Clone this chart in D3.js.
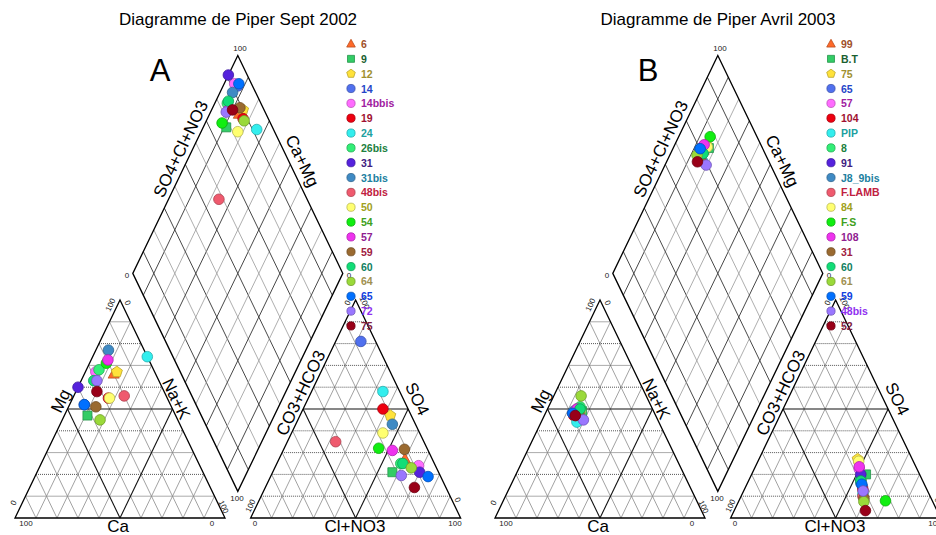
<!DOCTYPE html>
<html><head><meta charset="utf-8">
<script src="https://cdn.jsdelivr.net/npm/d3@7"></script>
<style>body{margin:0;background:#fff}svg{display:block}</style>
</head><body>
<script>
// ---------------- DATA ----------------
const titles = ["Diagramme de Piper Sept 2002", "Diagramme de Piper Avril 2003"];
const panelLetters = ["A", "B"];

// Panel A (Sept 2002) — percentages (meq)
const samplesA = ["6","9","12","14","14bbis","19","24","26bis","31","31bis","48bis","50","54","57","59","60","64","65","72","75"];
const mgA  = [66, 47, 67, 52, 67, 55, 74, 68, 60, 77, 56, 55, 71, 72.5, 51, 63, 45, 52, 63, 58];
const nakA = [14, 11, 15, 7, 5, 17, 26, 6, 0, 6, 24, 17.5, 8, 8, 13, 6, 18, 7, 7.5, 10];
const so4A = [27, 21, 47, 81, 24, 50, 58, 25, 21, 43, 35, 39, 32, 31, 31.5, 25, 23, 19, 19.5, 14];
const clA  = [60, 57, 43, 12, 68, 38, 34, 59, 70, 46, 23, 43.5, 45, 52, 57.5, 60, 65, 75, 62, 71];

// Panel B (Avril 2003)
const samplesB = ["99","B.T","75","65","57","104","PIP","8","91","J8_9bis","F.LAMB","84","F.S","108","31","60","61","59","48bis","52"];
const mgB  = [49, 49, 49, 48, 50, 47, 44, 51, 48, 49, 47, 49, 48, 50, 48, 50, 56, 48, 45, 47];
const nakB = [15, 17, 15, 13, 14, 14, 17, 15, 14, 13, 15, 16, 15, 14, 16, 15.5, 13, 13, 19.6, 14.7];
const so4B = [19, 20, 27, 14.5, 22.5, 13, 11, 18, 20, 16, 10, 26, 7.9, 23.5, 9, 17, 7.5, 15.5, 12.4, 3.4];
const clB  = [52.5, 54.5, 47, 55.5, 50, 56.5, 57.5, 53, 52, 54, 58, 48, 69.8, 49.5, 59, 53.5, 59.7, 54.7, 56.9, 62.5];

// Per legend position styling (same for both panels)
const fillColors = ["#ff6a2a","#33cc66","#ffe23a","#5070ee","#ff6cff","#ee0010","#33eeee","#33ee77","#5522dd","#3f8ac4",
                    "#ef5a6e","#ffff70","#11ee11","#ee33ee","#9a6a30","#11dd77","#9ad93a","#0070ff","#9a77ff","#990018"];
const textColors = ["#a0502a","#1a6030","#a09030","#2545c8","#a020a0","#a01030","#20a0a0","#208040","#402080","#2080a0",
                    "#c02040","#a0a020","#40a020","#902090","#a02040","#108060","#a09050","#1040e0","#9030f0","#802040"];
const shapes = ["triangle","square","pentagon","circle","circle","circle","circle","circle","circle","circle",
                "circle","circle","circle","circle","circle","circle","circle","circle","circle","circle"];

const gridTicks = [10,20,30,40,50,60,70,80,90];

// ---------------- SETUP ----------------
const W = 936, H = 535;
const svg = d3.select("body").append("svg").attr("width", W).attr("height", H)
  .style("font-family", "'Liberation Sans', Arial, sans-serif");

const hh = Math.sqrt(3) / 2;
const gap = 0.122;
const x = d3.scaleLinear().domain([0, 1]).range([15, 225]);
const y = d3.scaleLinear().domain([0, hh]).range([518, 300]);

const catPt = (mg, na) => [na / 100 + mg / 200, hh * mg / 100];
const anPt  = (so4, cl) => [1 + gap + cl / 100 + so4 / 200, hh * so4 / 100];
const diaPt = (na, a) => { const t = 1 + gap + a / 100 - na / 100; return [na / 100 + t / 2, hh * t]; };

const line = d3.line().x(d => x(d[0])).y(d => y(d[1]));
const rotAng = Math.atan2(y(hh) - y(0), x(0.5) - x(0)) * 180 / Math.PI;

function shapePath(kind, r) {
  if (kind === "circle") return d3.symbol(d3.symbolCircle, Math.PI * r * r)();
  if (kind === "square") return d3.symbol(d3.symbolSquare, (1.7 * r) * (1.7 * r))();
  if (kind === "triangle") return `M0,${-r * 1.15}L${r * 1.05},${r * 0.75}L${-r * 1.05},${r * 0.75}Z`;
  if (kind === "pentagon") {
    const pts = d3.range(5).map(k => { const a = (-90 + 72 * k) * Math.PI / 180; return [r * 1.1 * Math.cos(a), r * 1.1 * Math.sin(a)]; });
    return "M" + pts.map(p => p.join(",")).join("L") + "Z";
  }
}

function drawPanel(p, names, mg, nak, so4, cl) {
  const g = svg.append("g").attr("transform", `translate(${480 * p},0)`);
  const gridG = g.append("g");

  const seg = (a, b, cls) => {
    const el = gridG.append("path").attr("d", line([a, b])).attr("fill", "none");
    if (cls === "dot") el.attr("stroke", "#444").attr("stroke-width", 0.9).attr("stroke-dasharray", "1,1");
    else if (cls === "dark") el.attr("stroke", "#111").attr("stroke-width", 1.1);
    else if (cls === "dblack") el.attr("stroke", "#333").attr("stroke-width", 0.9);
    else if (cls === "dgrey") el.attr("stroke", "#999").attr("stroke-width", 0.8);
    else el.attr("stroke", "#8a8a8a").attr("stroke-width", 0.8);
    return el;
  };

  gridTicks.forEach(v => {
    seg(catPt(v, 0), catPt(v, 100 - v), v === 50 ? "dark" : "dot");
    seg(catPt(0, v), catPt(100 - v, v), v === 50 ? "dark" : "grey");
    seg(catPt(0, 100 - v), catPt(100 - v, 0), v === 50 ? "dark" : "grey");
    seg(anPt(v, 0), anPt(v, 100 - v), v === 50 ? "dark" : "dot");
    seg(anPt(0, v), anPt(100 - v, v), v === 50 ? "dark" : "grey");
    seg(anPt(0, 100 - v), anPt(100 - v, 0), v === 50 ? "dark" : "grey");
    const dc = (v / 10) % 2 === 1 ? "dblack" : "dgrey";
    seg(diaPt(v, 0), diaPt(v, 100), dc);
    seg(diaPt(0, v), diaPt(100, v), dc);
  });
  const border = pts => gridG.append("path").attr("d", line(pts) + "Z").attr("fill", "none").attr("stroke", "#000").attr("stroke-width", 1.3);
  border([catPt(0, 0), catPt(0, 100), catPt(100, 0)]);
  border([anPt(0, 0), anPt(0, 100), anPt(100, 0)]);
  border([diaPt(0, 0), diaPt(0, 100), diaPt(100, 100), diaPt(100, 0)]);

  const tick = (txt, px, py, rot) => g.append("text").text(txt)
    .attr("transform", `translate(${px},${py}) rotate(${rot || 0})`)
    .attr("text-anchor", "middle").attr("dominant-baseline", "middle")
    .attr("font-size", 8).attr("fill", "#222");
  tick("100", 26, 524); tick("0", 212, 524);
  tick("0", 14, 503, rotAng); tick("100", 111, 305, rotAng);
  tick("0", 127, 303, -rotAng); tick("100", 223, 507, -rotAng);
  tick("0", 255, 524); tick("100", 455, 524);
  tick("100", 251, 506, rotAng); tick("0", 457, 500, -rotAng);
  tick("0", 348, 303, rotAng); tick("100", 364, 303, -rotAng);
  tick("100", 240, 49); tick("0", 127, 276); tick("100", 237, 499); tick("0", 349, 276);

  const lab = (txt, px, py, rot) => g.append("text").text(txt)
    .attr("transform", `translate(${px},${py}) rotate(${rot || 0})`)
    .attr("text-anchor", "middle").attr("dominant-baseline", "central")
    .attr("font-size", 17).attr("fill", "#000");
  lab("SO4+Cl+NO3", 181, 149, rotAng);
  lab("Ca+Mg", 302, 161, -rotAng);
  lab("Mg", 61, 401, rotAng);
  lab("Na+K", 176, 399, -rotAng);
  lab("Ca", 118, 526);
  lab("CO3+HCO3", 301, 393, rotAng);
  lab("SO4", 417, 399, -rotAng);
  lab("Cl+NO3", 355, 526);

  g.append("text").text(titles[p]).attr("x", 238).attr("y", 25)
    .attr("text-anchor", "middle").attr("font-size", 17).attr("fill", "#000");
  g.append("text").text(panelLetters[p]).attr("x", p === 0 ? 160 : 168).attr("y", 81)
    .attr("text-anchor", "middle").attr("font-size", 31).attr("fill", "#000");

  const ptG = g.append("g");
  const drawSet = (fn) => names.forEach((n, i) => {
    const q = fn(i);
    ptG.append("path").attr("d", shapePath(shapes[i], 5.3))
      .attr("transform", `translate(${x(q[0])},${y(q[1])})`)
      .attr("fill", fillColors[i])
      .attr("stroke", d3.color(fillColors[i]).darker(0.9))
      .attr("stroke-width", 0.8);
  });
  drawSet(i => catPt(mg[i], nak[i]));
  drawSet(i => anPt(so4[i], cl[i]));
  drawSet(i => diaPt(nak[i], so4[i] + cl[i]));

  const leg = g.append("g");
  names.forEach((n, i) => {
    const ly = 44 + i * 14.84;
    leg.append("path").attr("d", shapePath(shapes[i], 4.1))
      .attr("transform", `translate(351,${ly})`)
      .attr("fill", fillColors[i]).attr("stroke", d3.color(fillColors[i]).darker(0.9)).attr("stroke-width", 0.8);
    leg.append("text").text(n).attr("x", 361).attr("y", ly)
      .attr("dominant-baseline", "central").attr("font-size", 10.5).attr("font-weight", "bold")
      .attr("fill", textColors[i]);
  });
}

drawPanel(0, samplesA, mgA, nakA, so4A, clA);
drawPanel(1, samplesB, mgB, nakB, so4B, clB);
</script>
</body></html>
